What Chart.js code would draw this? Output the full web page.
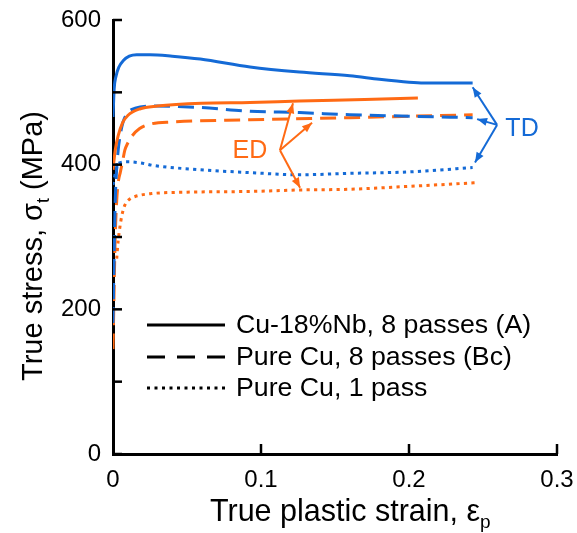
<!DOCTYPE html>
<html><head><meta charset="utf-8">
<script src="https://cdn.jsdelivr.net/npm/chart.js@4.4.1/dist/chart.umd.min.js"></script>
<style>html,body{margin:0;padding:0;background:#fff;}</style>
</head><body>
<canvas id="c" width="577" height="533"></canvas>
<script>
// ---------- data ----------
const xTicks = [0, 0.1, 0.2, 0.3];
const xTickLabels = ['0', '0.1', '0.2', '0.3'];
const yTicks = [0, 100, 200, 300, 400, 500, 600];
const yTickLabels = ['0', '', '200', '', '400', '', '600'];

const legendLabels = ['Cu-18%Nb, 8 passes (A)', 'Pure Cu, 8 passes (Bc)', 'Pure Cu, 1 pass'];

// Cu-18%Nb, 8 passes (A)
const nbTD_strain = [0, 0.0008, 0.002, 0.004, 0.007, 0.011, 0.016, 0.025, 0.04, 0.059, 0.0926, 0.126, 0.16, 0.18, 0.2, 0.21, 0.243];
const nbTD_stress = [466, 505, 522, 535, 544, 550, 552, 552, 550, 546, 535, 528, 523, 518, 514, 513, 513];
const nbED_strain = [0, 0.0015, 0.0035, 0.0065, 0.01, 0.018, 0.03, 0.06, 0.0926, 0.126, 0.17, 0.206];
const nbED_stress = [393, 420, 440, 458, 468, 477, 481, 485, 486, 488, 490, 492];
// Pure Cu, 8 passes (Bc)
const cu8TD_strain = [0, 0.001, 0.0015, 0.0025, 0.0035, 0.0048, 0.0068, 0.01, 0.015, 0.025, 0.059, 0.0926, 0.126, 0.16, 0.2, 0.243];
const cu8TD_stress = [181, 300, 350, 395, 420, 440, 459, 472, 478, 481, 479, 474, 472, 469, 467, 465];
const cu8ED_strain = [0, 0.0015, 0.0025, 0.0035, 0.005, 0.0065, 0.008, 0.01, 0.013, 0.018, 0.025, 0.04, 0.0926, 0.16, 0.243];
const cu8ED_stress = [145, 300, 350, 375, 390, 405, 420, 430, 440, 450, 456, 459, 462, 465, 469];
// Pure Cu, 1 pass
const cu1TD_strain = [0, 0.002, 0.004, 0.01, 0.02, 0.027, 0.059, 0.0926, 0.126, 0.16, 0.2, 0.243];
const cu1TD_stress = [372, 392, 402, 404, 402, 399, 393, 389, 386, 388, 390, 396];
const cu1ED_strain = [0.0025, 0.0035, 0.0047, 0.006, 0.008, 0.011, 0.015, 0.026, 0.05, 0.0926, 0.126, 0.16, 0.2, 0.245];
const cu1ED_stress = [270, 295, 314, 330, 344, 352, 356, 360, 362, 363, 365, 366, 370, 375];

// annotation arrows (data coordinates)
const edOrigin = [0.1128, 420];
const edTargets = [[0.1216, 485], [0.1345, 458], [0.1264, 368]];
const edLabelPos = [0.0925, 420];
const tdOrigin = [0.2595, 455];
const tdTargets = [[0.2430, 507], [0.2460, 463], [0.2446, 403]];
const tdLabelPos = [0.2757, 450];

// ---------- styles ----------
const BLUE = '#146ad6', ORANGE = '#ff6a14';
const FONT = '"Liberation Sans", Arial, sans-serif';
const DASH = [16, 8], DOT = [3.2, 4.3];

function pts(xs, ys) { return xs.map((x, i) => ({x: x, y: ys[i]})); }
function ds(label, xs, ys, color, dash) {
  return {label, data: pts(xs, ys), borderColor: color, borderWidth: 3, borderDash: dash,
    pointRadius: 0, cubicInterpolationMode: 'monotone', fill: false, borderCapStyle: 'butt'};
}

function arrow(ctx, x0, y0, x1, y1) {
  ctx.beginPath(); ctx.moveTo(x0, y0); ctx.lineTo(x1, y1); ctx.stroke();
  const a = Math.atan2(y1 - y0, x1 - x0), L = 10, W = 4;
  ctx.beginPath();
  ctx.moveTo(x1, y1);
  ctx.lineTo(x1 - L * Math.cos(a) + W * Math.sin(a), y1 - L * Math.sin(a) - W * Math.cos(a));
  ctx.lineTo(x1 - L * Math.cos(a) - W * Math.sin(a), y1 - L * Math.sin(a) + W * Math.cos(a));
  ctx.closePath(); ctx.fill();
}

function drawSubText(ctx, parts, x, y, align, big, small) {
  let total = 0;
  parts.forEach(p => { ctx.font = (p[1] ? small : big) + 'px ' + FONT; total += ctx.measureText(p[0]).width; });
  let cx = align === 'center' ? x - total / 2 : x;
  ctx.textAlign = 'left'; ctx.textBaseline = 'alphabetic';
  parts.forEach(p => {
    ctx.font = (p[1] ? small : big) + 'px ' + FONT;
    ctx.fillText(p[0], cx, y + (p[1] ? 7 : 0));
    cx += ctx.measureText(p[0]).width;
  });
}

const overlay = {
  id: 'overlay',
  afterDraw(chart) {
    const ctx = chart.ctx, xs = chart.scales.x, ys = chart.scales.y;
    const X = v => xs.getPixelForValue(v), Y = v => ys.getPixelForValue(v);
    ctx.save();
    // inward ticks
    ctx.strokeStyle = '#000'; ctx.lineWidth = 2.5; ctx.setLineDash([]);
    yTicks.forEach(v => { const p = Y(v); ctx.beginPath(); ctx.moveTo(xs.left, p); ctx.lineTo(xs.left + 9, p); ctx.stroke(); });
    xTicks.slice(1).forEach(v => { const p = X(v); ctx.beginPath(); ctx.moveTo(p, ys.bottom); ctx.lineTo(p, ys.bottom - 10); ctx.stroke(); });

    // axis titles
    ctx.fillStyle = '#000';
    drawSubText(ctx, [['True plastic strain, \u03b5', false], ['p', true]], 210, 521, 'left', 30.5, 19);
    ctx.save();
    ctx.translate(42, (ys.top + ys.bottom) / 2 + 9);
    ctx.rotate(-Math.PI / 2);
    drawSubText(ctx, [['True stress, \u03c3', false], ['t', true], [' (MPa)', false]], 0, 0, 'center', 29, 18);
    ctx.restore();

    // legend
    const rows = [325, 357, 388];
    const dashes = [[], [18, 12], [3, 4.5]];
    ctx.lineWidth = 3; ctx.strokeStyle = '#000';
    rows.forEach((ry, i) => {
      ctx.setLineDash(dashes[i]);
      ctx.beginPath(); ctx.moveTo(147, ry); ctx.lineTo(225, ry); ctx.stroke();
      ctx.setLineDash([]);
      ctx.font = '26.7px ' + FONT; ctx.textAlign = 'left'; ctx.textBaseline = 'middle';
      ctx.fillText(legendLabels[i], 236, ry + 1);
    });

    // annotations
    ctx.setLineDash([]); ctx.lineWidth = 2;
    ctx.strokeStyle = ORANGE; ctx.fillStyle = ORANGE;
    edTargets.forEach(t => arrow(ctx, X(edOrigin[0]), Y(edOrigin[1]), X(t[0]), Y(t[1])));
    ctx.font = '25px ' + FONT; ctx.textAlign = 'center'; ctx.textBaseline = 'middle';
    ctx.fillText('ED', X(edLabelPos[0]), Y(edLabelPos[1]) + 1);
    ctx.strokeStyle = BLUE; ctx.fillStyle = BLUE;
    tdTargets.forEach(t => arrow(ctx, X(tdOrigin[0]), Y(tdOrigin[1]), X(t[0]), Y(t[1])));
    ctx.fillText('TD', X(tdLabelPos[0]) + 1, Y(tdLabelPos[1]) + 1);
    ctx.restore();
  }
};

new Chart(document.getElementById('c'), {
  type: 'line',
  data: {
    datasets: [
      ds('Cu-18%Nb TD', nbTD_strain, nbTD_stress, BLUE, []),
      ds('Cu-18%Nb ED', nbED_strain, nbED_stress, ORANGE, []),
      ds('Pure Cu 8 TD', cu8TD_strain, cu8TD_stress, BLUE, DASH),
      ds('Pure Cu 8 ED', cu8ED_strain, cu8ED_stress, ORANGE, DASH),
      ds('Pure Cu 1 TD', cu1TD_strain, cu1TD_stress, BLUE, DOT),
      ds('Pure Cu 1 ED', cu1ED_strain, cu1ED_stress, ORANGE, DOT)
    ]
  },
  options: {
    responsive: false, animation: false, devicePixelRatio: 1,
    layout: {padding: {left: 0, top: 20, right: 20, bottom: 0}},
    plugins: {legend: {display: false}, tooltip: {enabled: false}},
    scales: {
      x: {
        type: 'linear', min: 0, max: 0.3,
        afterBuildTicks: s => { s.ticks = xTicks.map(v => ({value: v})); },
        afterFit: s => { s.height = 79; s.paddingLeft = 0; s.paddingRight = 0; s.paddingTop = 0; s.paddingBottom = 0; },
        grid: {display: false, drawTicks: false},
        border: {display: true, color: '#000', width: 3},
        ticks: {padding: 12, color: '#000', font: {family: FONT, size: 24},
          callback: (v) => xTickLabels[xTicks.indexOf(v)] ?? ''}
      },
      y: {
        type: 'linear', min: 0, max: 600,
        afterBuildTicks: s => { s.ticks = yTicks.map(v => ({value: v})); },
        afterFit: s => { s.width = 113; s.paddingLeft = 0; s.paddingRight = 0; s.paddingTop = 0; s.paddingBottom = 0; },
        grid: {display: false, drawTicks: false},
        border: {display: true, color: '#000', width: 3},
        ticks: {padding: 12, color: '#000', font: {family: FONT, size: 24},
          callback: (v) => yTickLabels[yTicks.indexOf(v)] ?? ''}
      }
    }
  },
  plugins: [overlay]
});
</script>
</body></html>
